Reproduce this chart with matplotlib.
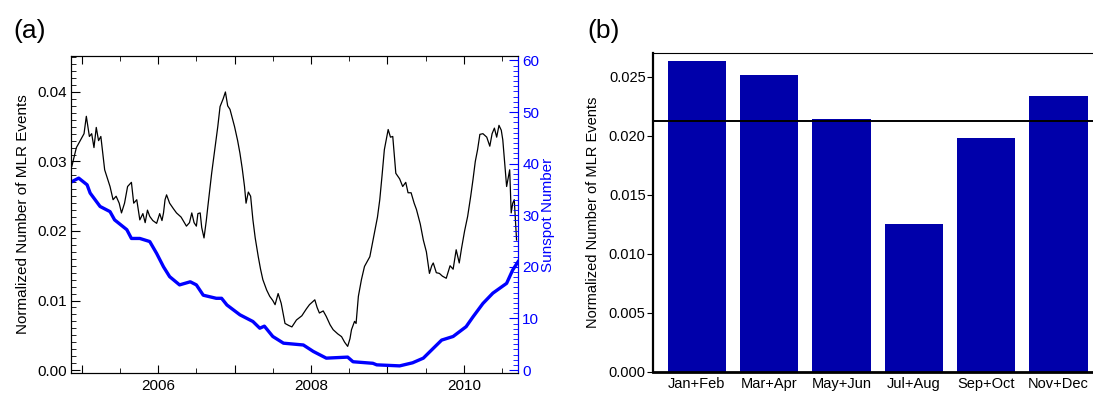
import matplotlib.pyplot as plt
from matplotlib.ticker import MultipleLocator, FixedLocator, FuncFormatter

plt.rcParams['font.family'] = ['Liberation Sans', 'DejaVu Sans']
plt.rcParams['font.size'] = 11

# panel (a): normalized MLR events (black) and sunspot number (blue)
mlr_years = [2004.87, 2004.93, 2004.98, 2005.03, 2005.06, 2005.10, 2005.13, 2005.16, 2005.19, 2005.22,
             2005.25, 2005.30, 2005.37, 2005.41, 2005.45, 2005.49, 2005.52, 2005.56, 2005.60, 2005.65,
             2005.68, 2005.72, 2005.76, 2005.80, 2005.83, 2005.86, 2005.89, 2005.93, 2005.98, 2006.02,
             2006.05, 2006.07, 2006.09, 2006.11, 2006.15, 2006.20, 2006.24, 2006.30, 2006.37, 2006.41,
             2006.44, 2006.47, 2006.50, 2006.52, 2006.55, 2006.57, 2006.60, 2006.63, 2006.65, 2006.70,
             2006.74, 2006.78, 2006.81, 2006.85, 2006.88, 2006.91, 2006.94, 2007.00, 2007.04, 2007.07,
             2007.10, 2007.13, 2007.15, 2007.18, 2007.21, 2007.24, 2007.27, 2007.31, 2007.34, 2007.37,
             2007.42, 2007.46, 2007.50, 2007.53, 2007.57, 2007.61, 2007.66, 2007.71, 2007.75, 2007.81,
             2007.88, 2007.94, 2007.98, 2008.05, 2008.08, 2008.11, 2008.16, 2008.20, 2008.25, 2008.29,
             2008.35, 2008.40, 2008.44, 2008.48, 2008.51, 2008.53, 2008.57, 2008.59, 2008.62, 2008.66,
             2008.70, 2008.77, 2008.80, 2008.83, 2008.87, 2008.90, 2008.93, 2008.96, 2009.01, 2009.04,
             2009.07, 2009.09, 2009.11, 2009.16, 2009.20, 2009.24, 2009.27, 2009.31, 2009.35, 2009.38,
             2009.43, 2009.47, 2009.51, 2009.55, 2009.58, 2009.60, 2009.64, 2009.68, 2009.72, 2009.77,
             2009.82, 2009.86, 2009.90, 2009.94, 2009.97, 2010.01, 2010.05, 2010.09, 2010.12, 2010.15,
             2010.18, 2010.21, 2010.25, 2010.30, 2010.34, 2010.37, 2010.40, 2010.43, 2010.46, 2010.49,
             2010.51, 2010.56, 2010.60, 2010.62, 2010.64, 2010.66, 2010.69]
mlr_values = [0.0293, 0.0320, 0.0330, 0.0340, 0.0365, 0.0336, 0.0340, 0.0320, 0.0349, 0.0330,
              0.0336, 0.0288, 0.0264, 0.0245, 0.0250, 0.0240, 0.0226, 0.0240, 0.0264, 0.0270,
              0.0240, 0.0245, 0.0216, 0.0225, 0.0212, 0.0230, 0.0221, 0.0215, 0.0211, 0.0225,
              0.0215, 0.0226, 0.0245, 0.0252, 0.0240, 0.0232, 0.0226, 0.0220, 0.0207, 0.0212,
              0.0226, 0.0212, 0.0207, 0.0225, 0.0226, 0.0205, 0.0190, 0.0215, 0.0235, 0.0283,
              0.0317, 0.0350, 0.0379, 0.0390, 0.0400, 0.0380, 0.0375, 0.0350, 0.0330, 0.0312,
              0.0290, 0.0264, 0.0240, 0.0256, 0.0250, 0.0216, 0.0190, 0.0163, 0.0145, 0.0130,
              0.0115, 0.0106, 0.0100, 0.0094, 0.0110, 0.0096, 0.0067, 0.0064, 0.0062, 0.0072,
              0.0078, 0.0088, 0.0094, 0.0101, 0.0090, 0.0082, 0.0085, 0.0077, 0.0065, 0.0058,
              0.0052, 0.0048, 0.0040, 0.0034, 0.0045, 0.0058, 0.0070, 0.0067, 0.0106, 0.0130,
              0.0149, 0.0163, 0.0180, 0.0197, 0.0220, 0.0245, 0.0280, 0.0317, 0.0346, 0.0335,
              0.0336, 0.0310, 0.0283, 0.0275, 0.0264, 0.0270, 0.0255, 0.0255, 0.0240, 0.0231,
              0.0210, 0.0187, 0.0170, 0.0139, 0.0150, 0.0154, 0.0140, 0.0139, 0.0135, 0.0132,
              0.0150, 0.0145, 0.0173, 0.0154, 0.0175, 0.0200, 0.0221, 0.0250, 0.0274, 0.0300,
              0.0317, 0.0339, 0.0340, 0.0335, 0.0322, 0.0340, 0.0348, 0.0335, 0.0352, 0.0345,
              0.0331, 0.0264, 0.0288, 0.0226, 0.0240, 0.0245, 0.0187]

ssn_years = [2004.87, 2004.96, 2005.07, 2005.11, 2005.24, 2005.37, 2005.43, 2005.59, 2005.65, 2005.76,
             2005.89, 2005.98, 2006.07, 2006.15, 2006.28, 2006.42, 2006.50, 2006.59, 2006.76, 2006.83,
             2006.90, 2007.07, 2007.24, 2007.33, 2007.39, 2007.50, 2007.64, 2007.90, 2008.03, 2008.20,
             2008.48, 2008.55, 2008.81, 2008.86, 2009.16, 2009.33, 2009.47, 2009.60, 2009.71, 2009.86,
             2010.03, 2010.12, 2010.25, 2010.38, 2010.56, 2010.64, 2010.71]
ssn_values = [36.5, 37.2, 35.9, 34.3, 31.7, 30.7, 29.1, 27.2, 25.5, 25.5,
              24.9, 22.6, 20.0, 18.1, 16.5, 17.1, 16.5, 14.5, 13.9, 13.9,
              12.6, 10.7, 9.4, 8.1, 8.5, 6.5, 5.2, 4.85, 3.6, 2.3,
              2.5, 1.6, 1.3, 1.0, 0.8, 1.4, 2.3, 4.2, 5.8, 6.5,
              8.4, 10.3, 12.9, 14.9, 16.8, 19.4, 21.0]

# panel (b): bimonthly averages
months = ['Jan+Feb', 'Mar+Apr', 'May+Jun', 'Jul+Aug', 'Sep+Oct', 'Nov+Dec']
month_values = [0.02633, 0.02514, 0.02147, 0.01252, 0.01986, 0.02336]
mean_value = 0.0213

fig = plt.figure(figsize=(10.93, 3.94), dpi=100)

# ---- (a)
ax1 = fig.add_axes([0.065, 0.0533, 0.409, 0.805])
ax1.plot(mlr_years, mlr_values, color='black', lw=0.9)
ax1.set_xlim(2004.86, 2010.71)
ax1.set_ylim(-0.00043, 0.0452)
ax1.set_ylabel('Normalized Number of MLR Events', fontsize=11, labelpad=5)
ax1.yaxis.set_major_locator(MultipleLocator(0.01))
ax1.yaxis.set_minor_locator(MultipleLocator(0.001))
ax1.yaxis.set_major_formatter(FuncFormatter(lambda v, p: '%.2f' % v))
ax1.xaxis.set_major_locator(FixedLocator([2005, 2006, 2007, 2008, 2009, 2010]))
ax1.xaxis.set_minor_locator(MultipleLocator(0.5))
ax1.xaxis.set_major_formatter(FuncFormatter(lambda v, p: '%d' % v if int(round(v)) % 2 == 0 else ''))
ax1.tick_params(axis='x', which='both', direction='in', top=True, bottom=True, pad=4.5)
ax1.tick_params(axis='x', which='major', length=6)
ax1.tick_params(axis='x', which='minor', length=3.5)
ax1.tick_params(axis='y', which='both', direction='in', right=False, pad=3)
ax1.tick_params(axis='y', which='major', length=6.5)
ax1.tick_params(axis='y', which='minor', length=3.5)

ax2 = ax1.twinx()
ax2.plot(ssn_years, ssn_values, color='#0000ff', lw=2.4)
ax2.set_ylim(-0.58, 60.9)
ax2.set_xlim(2004.86, 2010.71)
ax2.yaxis.set_major_locator(MultipleLocator(10))
ax2.yaxis.set_minor_locator(MultipleLocator(1))
ax2.tick_params(axis='y', which='both', direction='in', colors='#0000ff', pad=3)
ax2.tick_params(axis='y', which='major', length=6.5)
ax2.tick_params(axis='y', which='minor', length=3.5)
ax2.spines['right'].set_color('#0000ff')
ax2.set_ylabel('Sunspot Number', color='#0000ff', fontsize=11, labelpad=1)

fig.text(0.027, 0.921, '(a)', fontsize=19, ha='center', va='center')

# ---- (b)
ax3 = fig.add_axes([0.5977, 0.0566, 0.404, 0.808])
x = list(range(len(months)))
ax3.bar(x, month_values, width=0.806, color='#0000aa')
ax3.axhline(mean_value, color='black', lw=1.4)
ax3.set_xlim(-0.6, 5.5)
ax3.set_ylim(0, 0.027)
ax3.set_xticks(x)
ax3.set_xticklabels(months, fontsize=10.5)
ax3.yaxis.set_major_locator(MultipleLocator(0.005))
ax3.yaxis.set_major_formatter(FuncFormatter(lambda v, p: '%.3f' % v))
ax3.tick_params(axis='x', length=0, pad=4)
ax3.tick_params(axis='y', direction='out', length=4, pad=1.5, labelsize=10.5)
ax3.set_ylabel('Normalized Number of MLR Events', fontsize=10.5, labelpad=6)
ax3.spines['left'].set_linewidth(1.6)
ax3.spines['bottom'].set_linewidth(2)
ax3.spines['right'].set_visible(False)

fig.text(0.552, 0.921, '(b)', fontsize=19, ha='center', va='center')

fig.savefig('out.png', dpi=100)
